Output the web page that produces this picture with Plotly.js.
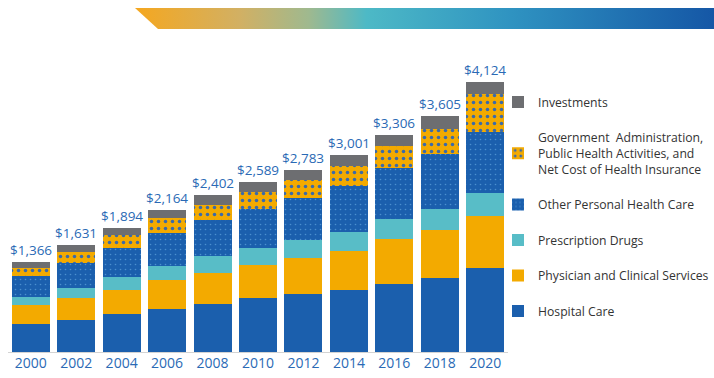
<!DOCTYPE html>
<html>
<head>
<meta charset="utf-8">
<script src="https://cdn.plot.ly/plotly-3.0.1.min.js"></script>
<style>
  html, body { margin: 0; padding: 0; background: #ffffff; }
  #wrap { position: relative; width: 714px; height: 378px; overflow: hidden; }
  #chart { position: absolute; left: 0; top: 0; width: 714px; height: 378px; }
  #banner {
    position: absolute; left: 135px; top: 8px; width: 579px; height: 21px;
    background: linear-gradient(to right, #f5a71f 0%, #d2b063 18%, #9fb98f 30%, #4db9c6 40%, #2f93c1 65%, #1557a6 100%);
    clip-path: polygon(0 0, 100% 0, 100% 100%, 23px 100%);
    pointer-events: none;
  }
</style>
</head>
<body>
<div id="wrap">
  <div id="chart"></div>
  <div id="banner"></div>
</div>
<script>
const years = ['2000','2002','2004','2006','2008','2010','2012','2014','2016','2018','2020'];
const totals = [1366, 1631, 1894, 2164, 2402, 2589, 2783, 3001, 3306, 3605, 4124];

const hospitalCare   = [420, 493, 576, 661, 726, 818, 883, 939, 1042, 1125, 1279];
const physician      = [290, 334, 377, 437, 473, 504, 556, 600, 676, 738, 800];
const prescription   = [122, 152, 198, 214, 260, 260, 264, 286, 305, 314, 345];
const otherPersonal  = [320, 384, 432, 505, 550, 595, 646, 707, 779, 849, 931];
const govAdmin       = [122, 162, 198, 225, 240, 270, 281, 312, 336, 381, 580];
const investments    = [92, 106, 113, 122, 153, 142, 153, 157, 168, 198, 189];

const names = {
  hosp: 'Hospital Care',
  phys: 'Physician and Clinical Services',
  rx: 'Prescription Drugs',
  other: 'Other Personal Health Care',
  gov: 'Government  Administration,<br>Public Health Activities, and<br>Net Cost of Health Insurance',
  inv: 'Investments'
};

const BLUE = '#1b5fad', AMBER = '#f3aa00', TEAL = '#58bdc7', GRAY = '#6d6e71';

function bar(name, y, marker, grp, rank) {
  return { type: 'bar', x: years, y: y, name: name, marker: marker, legendgroup: grp,
           legendrank: rank, hoverinfo: 'skip', textposition: 'none' };
}

const traces = [
  bar(names.hosp, hospitalCare, { color: BLUE, line: { width: 0 } }, 'a', 6),
  bar(names.phys, physician, { color: AMBER, line: { width: 0 } }, 'b', 5),
  bar(names.rx, prescription, { color: TEAL, line: { width: 0 } }, 'c', 4),
  bar(names.other, otherPersonal, { color: BLUE, line: { width: 0 },
      pattern: { shape: '.', bgcolor: BLUE, fgcolor: '#4a8fcf', size: 5, solidity: 0.08 } }, 'd', 3),
  bar(names.gov, govAdmin, { color: AMBER, line: { width: 0 },
      pattern: { shape: '.', bgcolor: AMBER, fgcolor: '#3a6aaa', size: 7, solidity: 0.2 } }, 'e', 2),
  bar(names.inv, investments, { color: GRAY, line: { width: 0 } }, 'f', 1)
];

const annotations = years.map((yr, i) => ({
  x: i, y: totals[i], xref: 'x', yref: 'y',
  text: '$' + totals[i].toLocaleString('en-US'),
  showarrow: false, yanchor: 'bottom', yshift: 1,
  font: { family: 'Open Sans, sans-serif', size: 13.5, color: '#2a6ab5' }
}));

const layout = {
  width: 714, height: 378,
  margin: { l: 8, r: 206, t: 57, b: 26, pad: 0, autoexpand: false },
  paper_bgcolor: 'rgba(0,0,0,0)', plot_bgcolor: 'rgba(0,0,0,0)',
  barmode: 'stack', bargap: 0.165,
  font: { family: 'Open Sans, sans-serif' },
  xaxis: {
    type: 'category', range: [-0.5, 10.5], autorange: false,
    showline: true, linecolor: '#d3d3d3', linewidth: 1,
    ticks: '', showgrid: false, zeroline: false, ticklabelstandoff: -2,
    tickfont: { size: 14, color: '#2a6ab5' }, fixedrange: true
  },
  yaxis: { range: [0, 4500], autorange: false, visible: false, showgrid: false, zeroline: false, fixedrange: true },
  showlegend: true,
  legend: {
    x: 0.98, xanchor: 'left', xref: 'paper', y: 0.897, yanchor: 'top',
    traceorder: 'grouped', tracegroupgap: 16.5, valign: 'middle',
    font: { size: 12.2, color: '#333333', family: 'Open Sans, sans-serif' },
    bgcolor: 'rgba(0,0,0,0)'
  },
  annotations: annotations
};

Plotly.newPlot('chart', traces, layout, { displayModeBar: false, staticPlot: true });
</script>
</body>
</html>
